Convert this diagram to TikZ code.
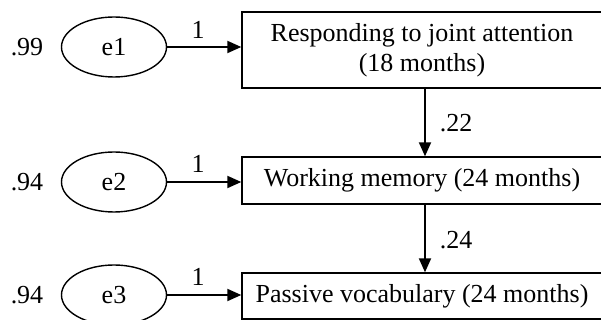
\documentclass[tikz,border=0pt]{standalone}
\usepackage{fontspec}
\setmainfont{Liberation Serif}
\usetikzlibrary{shapes.geometric,arrows.meta}

\tikzset{
  errnode/.style={draw,ellipse,line width=0.7pt,minimum width=52.5pt,minimum height=30pt,inner sep=0pt},
  varbox/.style={draw,rectangle,line width=0.7pt,minimum width=180pt,inner sep=0pt,align=center},
  pathline/.style={line width=1pt,-{Triangle[length=7pt,width=6pt]}},
}

\begin{document}
\begin{tikzpicture}[x=0.5pt,y=-0.5pt,font=\fontsize{13}{15}\selectfont]
    \useasboundingbox (0,0) rectangle (601,320);

    % observed variables
    \node[varbox,minimum height=38pt] (rja) at (422,50) {Responding to joint attention\\(18 months)};
    \node[varbox,minimum height=23.5pt] (wm) at (422,180.5) {Working memory (24 months)};
    \node[varbox,minimum height=23pt] (pv) at (422,296) {Passive vocabulary (24 months)};

    % error terms
    \node[errnode] (e1) at (114,47) {e1};
    \node[errnode] (e2) at (114,182) {e2};
    \node[errnode] (e3) at (114,295) {e3};

    % error variances
    \node (v1) at (27,47) {.99};
    \node (v2) at (27,182) {.94};
    \node (v3) at (27,295) {.94};

    % error paths
    \draw[pathline] (e1.east) -- (e1.east -| rja.west);
    \draw[pathline] (e2.east) -- (e2.east -| wm.west);
    \draw[pathline] (e3.east) -- (e3.east -| pv.west);
    \node (w1) at (198,30) {1};
    \node (w2) at (198,164) {1};
    \node (w3) at (198,277) {1};

    % regression paths
    \draw[pathline] ([xshift=1.5pt]rja.south) -- ([xshift=1.5pt]wm.north);
    \draw[pathline] ([xshift=1.5pt]wm.south) -- ([xshift=1.5pt]pv.north);
    \node (b1) at (456,123) {.22};
    \node (b2) at (456,240) {.24};
\end{tikzpicture}
\end{document}
